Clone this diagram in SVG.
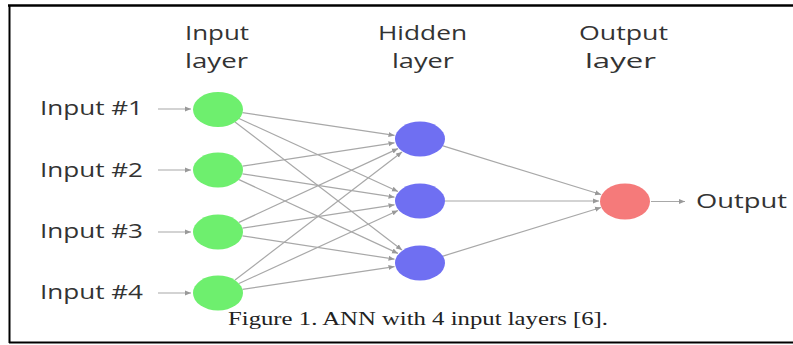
<svg xmlns="http://www.w3.org/2000/svg" width="793" height="345" viewBox="0 0 793 345">
<style>
.lbl{font-family:"Open Sans","DejaVu Sans",sans-serif;font-size:20px;fill:#333;}
.cap{font-family:"Liberation Serif","Times New Roman",serif;font-size:19px;fill:#222;}
.edge{stroke:#a8a8a8;stroke-width:1.2;fill:none;marker-end:url(#ah);}
.in{fill:#6eef6e;}
.hid{fill:#6f6ff2;}
.out{fill:#f57a7a;}
</style>
<defs>
<marker id="ah" markerUnits="userSpaceOnUse" markerWidth="7" markerHeight="6" refX="6" refY="3" orient="auto">
<path d="M0,0.5 L6,3 L0,5.5 Z" fill="#999"/>
</marker>
</defs>
<rect width="793" height="345" fill="#fff"/>
<g id="frame" stroke="#000" fill="none">
<line x1="8" y1="5.5" x2="793" y2="5.5" stroke-width="2.5"/>
<line x1="9.5" y1="5" x2="9.5" y2="343" stroke-width="2"/>
<line x1="9" y1="342.5" x2="793" y2="342.5" stroke-width="2"/>
</g>
<g id="headers">
<text class="lbl" x="185" y="40" textLength="64" lengthAdjust="spacingAndGlyphs">Input</text>
<text class="lbl" x="185" y="68" textLength="63" lengthAdjust="spacingAndGlyphs">layer</text>
<text class="lbl" x="378" y="40" textLength="89" lengthAdjust="spacingAndGlyphs">Hidden</text>
<text class="lbl" x="392" y="68" textLength="62" lengthAdjust="spacingAndGlyphs">layer</text>
<text class="lbl" x="579" y="40" textLength="89" lengthAdjust="spacingAndGlyphs">Output</text>
<text class="lbl" x="585" y="68" textLength="71" lengthAdjust="spacingAndGlyphs">layer</text>
</g>
<g id="connectors">
<line class="edge" x1="158" y1="109" x2="191" y2="109"/>
<line class="edge" x1="158" y1="170" x2="191" y2="170"/>
<line class="edge" x1="158" y1="232" x2="191" y2="232"/>
<line class="edge" x1="158" y1="293" x2="191" y2="293"/>
<line class="edge" x1="242.5" y1="112.6" x2="394.5" y2="135.4"/>
<line class="edge" x1="239" y1="118.5" x2="398" y2="191.5"/>
<line class="edge" x1="235" y1="122" x2="402" y2="250"/>
<line class="edge" x1="242.5" y1="166.2" x2="394.5" y2="142.8"/>
<line class="edge" x1="242.5" y1="173.8" x2="394.5" y2="197.2"/>
<line class="edge" x1="239" y1="179.6" x2="398" y2="253.4"/>
<line class="edge" x1="239" y1="222.4" x2="398" y2="148.6"/>
<line class="edge" x1="242.5" y1="228.2" x2="394.5" y2="204.8"/>
<line class="edge" x1="242.5" y1="235.8" x2="394.5" y2="259.2"/>
<line class="edge" x1="235" y1="280" x2="402" y2="152"/>
<line class="edge" x1="239" y1="283.5" x2="398" y2="210.5"/>
<line class="edge" x1="242.5" y1="289.4" x2="394.5" y2="266.6"/>
<line class="edge" x1="443" y1="145.9" x2="601" y2="194.5"/>
<line class="edge" x1="445" y1="201" x2="599" y2="201"/>
<line class="edge" x1="443" y1="256.1" x2="601" y2="207.5"/>
<line class="edge" x1="651" y1="201.5" x2="685" y2="201.5"/>
</g>
<g id="input-labels">
<text class="lbl" x="40" y="115" textLength="103" lengthAdjust="spacingAndGlyphs">Input #1</text>
<text class="lbl" x="40" y="177" textLength="103" lengthAdjust="spacingAndGlyphs">Input #2</text>
<text class="lbl" x="40" y="238" textLength="103" lengthAdjust="spacingAndGlyphs">Input #3</text>
<text class="lbl" x="40" y="299" textLength="103" lengthAdjust="spacingAndGlyphs">Input #4</text>
</g>
<g id="in1"><ellipse class="in" cx="218" cy="109.5" rx="25" ry="17.5"/></g>
<g id="in2"><ellipse class="in" cx="218" cy="170" rx="25" ry="17.5"/></g>
<g id="in3"><ellipse class="in" cx="218" cy="232" rx="25" ry="17.5"/></g>
<g id="in4"><ellipse class="in" cx="218" cy="293" rx="25" ry="17.5"/></g>
<g id="h1"><ellipse class="hid" cx="420" cy="139" rx="25" ry="17.5"/></g>
<g id="h2"><ellipse class="hid" cx="420" cy="201" rx="25" ry="17.5"/></g>
<g id="h3"><ellipse class="hid" cx="420" cy="263" rx="25" ry="17.5"/></g>
<g id="out"><ellipse class="out" cx="625" cy="201.5" rx="25" ry="18"/></g>
<g id="output-label">
<text class="lbl" x="696" y="208" textLength="91" lengthAdjust="spacingAndGlyphs">Output</text>
</g>
<g id="caption">
<text class="cap" x="228" y="325" textLength="380" lengthAdjust="spacingAndGlyphs">Figure 1. ANN with 4 input layers [6].</text>
</g>
</svg>
